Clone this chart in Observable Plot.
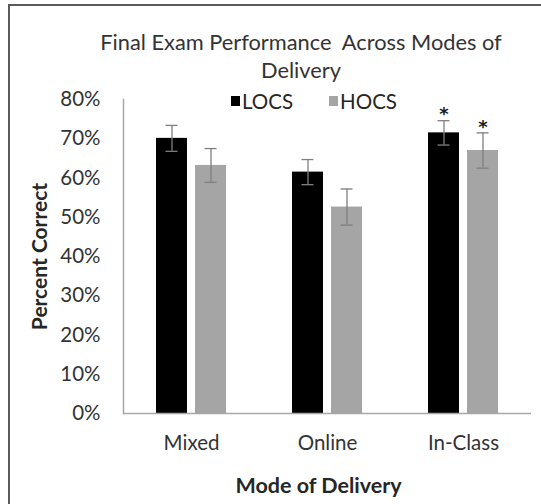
<!DOCTYPE html>
<html>
<head>
<meta charset="utf-8">
<script src="https://cdn.jsdelivr.net/npm/d3@7"></script>
<script src="https://cdn.jsdelivr.net/npm/@observablehq/plot@0.6"></script>
<style>
  body { margin: 0; background: #fff; }
  #wrap { position: relative; width: 541px; height: 504px; background: #fff; overflow: hidden; font-family: Lato, sans-serif; }
  #border { position: absolute; left: 8px; top: 4px; width: 560px; height: 520px; border-top: 2px solid #5a5a5a; border-left: 2px solid #5a5a5a; }
  #title { position: absolute; left: 40px; width: 522px; top: 28px; text-align: center; font-size: 21.8px; line-height: 28px; color: #333; }
  #legend { position: absolute; top: 89px; left: 231px; font-size: 20.5px; color: #262626; display: flex; align-items: center; }
  .sw { display: inline-block; width: 9px; height: 10px; margin-right: 2px; }
  .item { display: flex; align-items: center; margin-right: 36px; }
  #chart { position: absolute; left: 0; top: 0; }
</style>
</head>
<body>
<div id="wrap">
  <div id="border"></div>
  <div id="chart"></div>
  <div id="title">Final Exam Performance&nbsp; Across Modes of<br>Delivery</div>
  <div id="legend"></div>
</div>
<script>
const modes = ["Mixed", "Online", "In-Class"];
const series = ["LOCS", "HOCS"];
const colors = ["#000000", "#a5a5a5"];
const locs = [0.701, 0.615, 0.715];
const hocs = [0.632, 0.526, 0.670];
const locsErr = [0.033, 0.032, 0.031];
const hocsErr = [0.043, 0.046, 0.045];
const significant = [["In-Class", "LOCS"], ["In-Class", "HOCS"]];
const yTicks = [0, 0.1, 0.2, 0.3, 0.4, 0.5, 0.6, 0.7, 0.8];
const yLabel = "Percent Correct";
const xLabel = "Mode of Delivery";

const data = modes.flatMap((m, i) => [
  {mode: m, series: "LOCS", value: locs[i], err: locsErr[i]},
  {mode: m, series: "HOCS", value: hocs[i], err: hocsErr[i]}
]);
const sig = data.filter(d => significant.some(([m, s]) => m === d.mode && s === d.series));

const lo = d => d.value - d.err;
const hi = d => d.value + d.err;
const errColor = "#7f7f7f";

const chart = Plot.plot({
  width: 541,
  height: 504,
  marginTop: 99,
  marginBottom: 91,
  marginLeft: 123,
  marginRight: 10,
  style: {fontFamily: "Lato, sans-serif", background: "transparent", color: "#333"},
  fx: {domain: modes, padding: 0, label: null},
  x: {domain: series, paddingInner: 0.217, paddingOuter: 0.843, axis: null},
  y: {domain: [0, 0.8]},
  color: {domain: series, range: colors},
  marks: [
    Plot.barY(data, {fx: "mode", x: "series", y: "value", fill: "series"}),
    Plot.ruleY([0], {stroke: "#a6a6a6", strokeWidth: 1.5}),
    Plot.frame({anchor: "left", facetAnchor: "left", stroke: "#a6a6a6", strokeWidth: 1.5}),
    Plot.ruleX(data, {fx: "mode", x: "series", y1: lo, y2: hi, stroke: errColor, strokeWidth: 1.3}),
    Plot.tickY(data, {fx: "mode", x: "series", y: lo, insetLeft: 9.5, insetRight: 9.5, stroke: errColor, strokeWidth: 1.3}),
    Plot.tickY(data, {fx: "mode", x: "series", y: hi, insetLeft: 9.5, insetRight: 9.5, stroke: errColor, strokeWidth: 1.3}),
    Plot.text(sig, {fx: "mode", x: "series", y: hi, text: () => "*", dy: -6, fontSize: 18, fontFamily: "DejaVu Sans", fontWeight: "bold", fill: "#1a1a1a"}),
    Plot.axisY({ticks: yTicks, tickFormat: d3.format(".0%"), tickSize: 0, tickPadding: 23, fontSize: 20.5, label: null, fill: "#333"}),
    Plot.axisFx({anchor: "bottom", tickSize: 0, tickPadding: 22, fontSize: 20.5, label: null, fill: "#333"}),
    Plot.text([yLabel], {frameAnchor: "left", facetAnchor: "left", textAnchor: "middle", rotate: -90, dx: -83, fontSize: 21, fontWeight: "bold", fill: "#262626"}),
    Plot.text([{m: "Online", t: xLabel}], {fx: "m", text: "t", frameAnchor: "bottom", textAnchor: "middle", dy: 79, dx: -9, fontSize: 21.5, fontWeight: "bold", fill: "#262626"})
  ]
});
document.getElementById("chart").appendChild(chart);

const legend = document.getElementById("legend");
series.forEach((s, i) => {
  const item = document.createElement("span");
  item.className = "item";
  const sw = document.createElement("span");
  sw.className = "sw";
  sw.style.background = colors[i];
  item.appendChild(sw);
  item.appendChild(document.createTextNode(s));
  legend.appendChild(item);
});
</script>
</body>
</html>
